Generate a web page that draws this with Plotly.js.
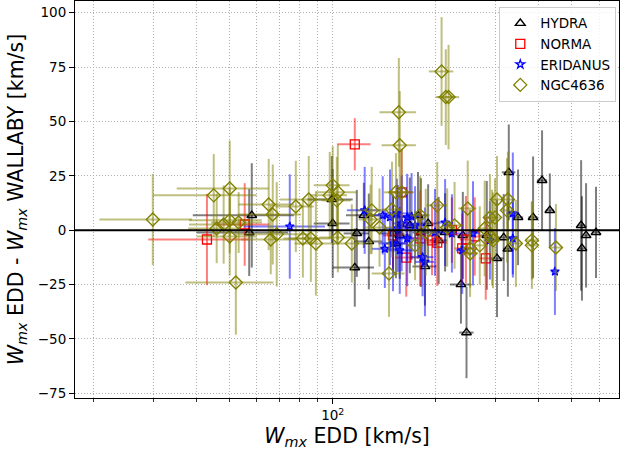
<!DOCTYPE html>
<html><head><meta charset="utf-8">
<script src="https://cdn.plot.ly/plotly-3.0.1.min.js"></script>
<style>html,body{margin:0;padding:0;background:#fff;}#plot{width:621px;height:456px;}</style>
</head><body><div id="plot"></div>
<script>
// HYDRA
const hydraX  = [58, 57, 99.4, 100, 116, 117.6, 123.3, 127.5, 150, 153, 177.5, 190, 181, 186, 204, 237, 246, 240, 282, 316, 325, 302, 327, 348, 385, 409, 431, 532, 550, 588, 535, 157, 168, 213];
const hydraY  = [6.8, -1.1, 14.1, 3.1, -17.2, -1.5, 6.8, -5.2, -1.5, -6.1, 6.8, 3.1, -1.1, -16.7, -4.7, -25, -47.1, -2.4, -2.4, -3.4, -8.6, -13, 26.6, 5.9, 5.9, 22.9, 9.1, 2.2, -2.4, -1, -8.4, -2.4, 2.2, -1];
const hydraXe = [19, 17, 15, 12, 16, 10, 14, 12, 12, 10, 12, 14, 10, 15, 12, 17, 12, 10, 12, 12, 10, 14, 15, 12, 12, 14, 12, 12, 10, 12, 10, 12, 10, 12];
const hydraYe = [24, 20, 20, 25, 18, 20, 15, 22, 18, 16, 20, 18, 25, 18, 20, 18, 21, 20, 25, 20, 22, 27, 22, 22, 28, 23, 17, 30, 24, 21, 24, 20, 22, 18];
// NORMA
const normaX  = [42.9, 55.3, 116, 159, 150, 164, 202, 195, 223, 245, 239, 280, 180, 260];
const normaY  = [-4.3, 2.6, 39.5, 17.4, -2.4, -12.6, -5.7, -4.7, 0, -4.3, -8.4, -13, -3.8, -2.9];
const normaXe = [14, 10, 13, 12, 10, 12, 14, 10, 12, 10, 12, 12, 10, 12];
const normaYe = [21, 19, 12, 20, 15, 18, 20, 16, 15, 20, 16, 19, 22, 18];
// ERIDANUS
const eriX  = [74.9, 124, 140, 147, 154, 165, 142, 157, 159, 170, 174, 165, 183, 186, 199, 223, 239, 257, 336, 336, 446, 155, 150, 213, 288];
const eriY  = [1.7, 9.1, 6.8, 5.9, 7.7, 5.9, -8.6, -9.3, 3.1, 6.3, 2.2, -3.8, -12.4, -14.6, -1, -1.5, -9.3, -1.5, 7.7, -3.8, -19, 0.8, -6.1, 3.5, -4.7];
const eriXe = [20, 14, 12, 10, 14, 12, 12, 14, 10, 12, 10, 12, 14, 12, 12, 14, 10, 12, 15, 10, 12, 12, 14, 12, 12];
const eriYe = [24, 20, 18, 22, 16, 20, 18, 20, 22, 20, 18, 22, 18, 25, 20, 18, 20, 24, 28, 18, 20, 20, 22, 20, 18];
// NGC4636
const ngcX  = [29.8, 44.9, 50, 45.8, 48, 50, 50, 53.1, 52.1, 65, 66.8, 65.9, 68.6, 78, 85.1, 81.8, 86.3, 89.3, 100, 103.5, 102.8, 103.5, 113.7, 130, 129, 137, 146, 153, 159, 149, 157, 156, 208, 214, 218, 202, 248, 216, 288, 292, 252, 252, 302, 325, 323, 298, 294, 343, 382, 382, 449, 180, 227, 278, 269, 187, 174, 98];
const ngcY  = [4.9, 16, 19.2, 0.8, 2.6, 4.5, -2.9, 3.5, -24.1, 11.8, 7.2, -4.3, -1.9, 10.9, 14.1, -3.8, -3.8, -6.1, 20.6, 17.4, 13.7, -3.4, -6.1, 9.1, 4.9, 1.2, -19.9, 17.4, 17.4, 9.5, 39, 54.2, 73, 61.2, 61.2, 11.4, 10, 1.2, 5.8, -3.4, -8.4, -10.7, 14.1, 14.1, 9.1, 5.8, -4.7, -6.1, -4.7, -7, -8, 6.8, 2.2, 0.8, -7, -1, -7, 16];
const ngcXe = [9, 15, 15, 8, 10, 12, 10, 9, 15, 12, 14, 12, 16, 10, 15, 10, 12, 12, 12, 14, 10, 12, 14, 12, 10, 14, 16, 12, 14, 10, 18, 19, 17, 14, 16, 14, 15, 12, 12, 14, 12, 14, 12, 15, 12, 10, 12, 14, 16, 14, 20, 12, 14, 12, 14, 12, 10, 12];
const ngcYe = [21, 19, 22, 16, 18, 15, 18, 14, 24, 21, 23, 16, 24, 21, 20, 18, 20, 24, 18, 22, 20, 16, 18, 20, 16, 18, 20, 18, 20, 22, 25, 25, 25, 22, 24, 20, 22, 18, 20, 22, 18, 20, 20, 22, 24, 18, 22, 20, 18, 20, 20, 18, 20, 22, 18, 20, 16, 20];
// tick labels
const yTicks = [-75, -50, -25, 0, 25, 50, 75, 100];
const xMajor = [100];
const xMajorText = ['10<sup>2</sup>'];
const xMinor = [20, 30, 40, 50, 60, 70, 80, 90, 200, 300, 400, 500, 600];

function tr(name, x, y, xe, ye, symbol, color, ecol, size, lw) {
  return {
    type: 'scatter', mode: 'markers', name: name, x: x, y: y,
    marker: {symbol: symbol, size: size, color: color, line: {color: color, width: lw}},
    error_x: {type: 'data', array: xe, visible: true, color: ecol, thickness: 2, width: 0},
    error_y: {type: 'data', array: ye, visible: true, color: ecol, thickness: 2, width: 0}
  };
}
const data = [
  tr('HYDRA', hydraX, hydraY, hydraXe, hydraYe, 'triangle-up-open', '#000000', 'rgba(0,0,0,0.5)', 8.5, 1.4),
  tr('NORMA', normaX, normaY, normaXe, normaYe, 'square-open', '#ff0000', 'rgba(255,0,0,0.5)', 9, 1.3),
  tr('ERIDANUS', eriX, eriY, eriXe, eriYe, 'star-open', '#0000ff', 'rgba(0,0,255,0.5)', 6.5, 1.3),
  tr('NGC4636', ngcX, ngcY, ngcXe, ngcYe, 'diamond-open', '#808000', 'rgba(128,128,0,0.5)', 10, 1.4)
];
const gridDash = '1px,2px';
const layout = {
  width: 621, height: 456,
  margin: {l: 75, r: 2, t: 1, b: 58},
  paper_bgcolor: '#fff', plot_bgcolor: '#fff',
  font: {family: 'DejaVu Sans', size: 13.5, color: '#000'},
  showlegend: true,
  legend: {x: 0.995, xanchor: 'right', y: 0.985, yanchor: 'top',
           bgcolor: 'rgba(255,255,255,0.8)', bordercolor: '#cccccc', borderwidth: 1,
           font: {family: 'DejaVu Sans', size: 13.5, color: '#000'}},
  xaxis: {
    type: 'log', range: [1.2468, 2.8366],
    tickmode: 'array', tickvals: xMajor, ticktext: xMajorText,
    ticks: 'outside', ticklen: 5, tickwidth: 1, tickcolor: '#000',
    showgrid: true, gridcolor: '#b0b0b0', griddash: gridDash, gridwidth: 1,
    minor: {tickmode: 'array', tickvals: xMinor, ticks: 'outside', ticklen: 3, tickwidth: 0.8, tickcolor: '#000',
            showgrid: true, gridcolor: '#b0b0b0', griddash: gridDash, gridwidth: 1},
    showline: true, linecolor: '#000', linewidth: 1, mirror: true, zeroline: false,
    tickfont: {family: 'DejaVu Sans', size: 13.5, color: '#000'},
    title: {text: '<i>W</i><sub><i>mx</i></sub> EDD [km/s]', font: {family: 'DejaVu Sans', size: 20.5, color: '#000'}, standoff: 6}
  },
  yaxis: {
    range: [-77.2, 105.4],
    tickmode: 'array', tickvals: yTicks,
    ticks: 'outside', ticklen: 5, tickwidth: 1, tickcolor: '#000',
    showgrid: true, gridcolor: '#b0b0b0', griddash: gridDash, gridwidth: 1,
    showline: true, linecolor: '#000', linewidth: 1, mirror: true, zeroline: false,
    tickfont: {family: 'DejaVu Sans', size: 13.5, color: '#000'},
    title: {text: '<i>W</i><sub><i>mx</i></sub> EDD - <i>W</i><sub><i>mx</i></sub> WALLABY [km/s]', font: {family: 'DejaVu Sans', size: 20.5, color: '#000'}, standoff: 8}
  },
  shapes: [{type: 'line', xref: 'paper', x0: 0, x1: 1, yref: 'y', y0: 0, y1: 0, line: {color: '#000', width: 2}}]
};
Plotly.newPlot('plot', data, layout, {displayModeBar: false, staticPlot: true});
</script></body></html>
